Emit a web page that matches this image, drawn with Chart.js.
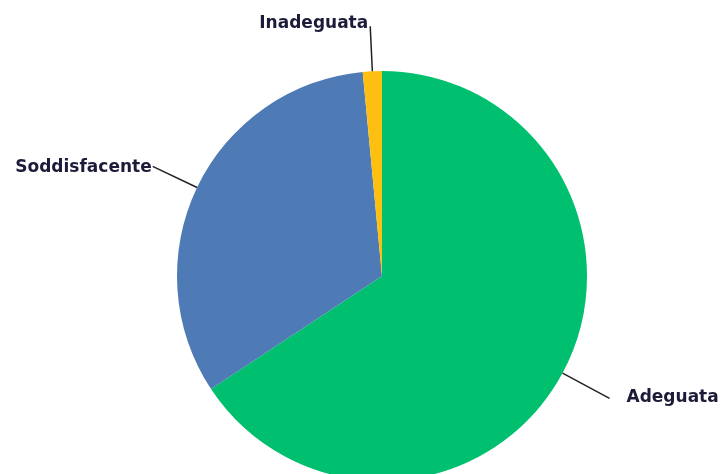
<!DOCTYPE html>
<html>
<head>
<meta charset="utf-8">
<script src="https://cdn.jsdelivr.net/npm/chart.js@4/dist/chart.umd.min.js"></script>
<style>
  html, body { margin: 0; padding: 0; background: #fff; overflow: hidden; }
  canvas { display: block; }
</style>
</head>
<body>
<canvas id="Chart" width="722" height="490"></canvas>
<script>
// values (percent)
var categories = ["Adeguata", "Soddisfacente", "Inadeguata"];
var values = [65.7, 32.8, 1.5];
var colors = ["#00BF6F", "#4E7AB5", "#FDC010"];

// leader line: how far out (times radius) the line ends
var labelReach = [1.26, 1.24, 1.22];

var leaderLabels = {
    id: 'leaderLabels',
    afterDatasetsDraw: function(chart) {
        var ctx = chart.ctx;
        var meta = chart.getDatasetMeta(0);
        ctx.save();
        ctx.font = "bold 17px 'DejaVu Sans'";
        ctx.textBaseline = 'middle';
        meta.data.forEach(function(arc, i) {
            var mid = (arc.startAngle + arc.endAngle) / 2;
            var r = arc.outerRadius;
            var x0 = arc.x + Math.cos(mid) * r;
            var y0 = arc.y + Math.sin(mid) * r;
            var x1 = arc.x + Math.cos(mid) * r * labelReach[i];
            var y1 = arc.y + Math.sin(mid) * r * labelReach[i];
            ctx.strokeStyle = '#222';
            ctx.lineWidth = 1.5;
            ctx.beginPath();
            ctx.moveTo(x0, y0);
            ctx.lineTo(x1, y1);
            ctx.stroke();
            ctx.fillStyle = '#1c1c3a';
            if (Math.cos(mid) >= 0) {
                ctx.textAlign = 'left';
                ctx.fillText(categories[i], x1 + 17, y1 - 1);
            } else if (Math.abs(Math.cos(mid)) < 0.2) {
                ctx.textAlign = 'right';
                ctx.fillText(categories[i], x1 - 2, y1 - 3);
            } else {
                ctx.textAlign = 'right';
                ctx.fillText(categories[i], x1 - 1, y1 + 1);
            }
        });
        ctx.restore();
    }
};

var ctx = document.getElementById("Chart");
var newChart = new Chart(ctx, {
    type: 'pie',
    data: {
        labels: categories,
        datasets: [{
            data: values,
            backgroundColor: colors,
            borderWidth: 0
        }]
    },
    options: {
        responsive: false,
        animation: false,
        layout: { padding: { top: 71, bottom: 9, left: 177, right: 135 } },
        plugins: {
            legend: { display: false },
            tooltip: { enabled: false }
        }
    },
    plugins: [leaderLabels]
});
</script>
</body>
</html>
